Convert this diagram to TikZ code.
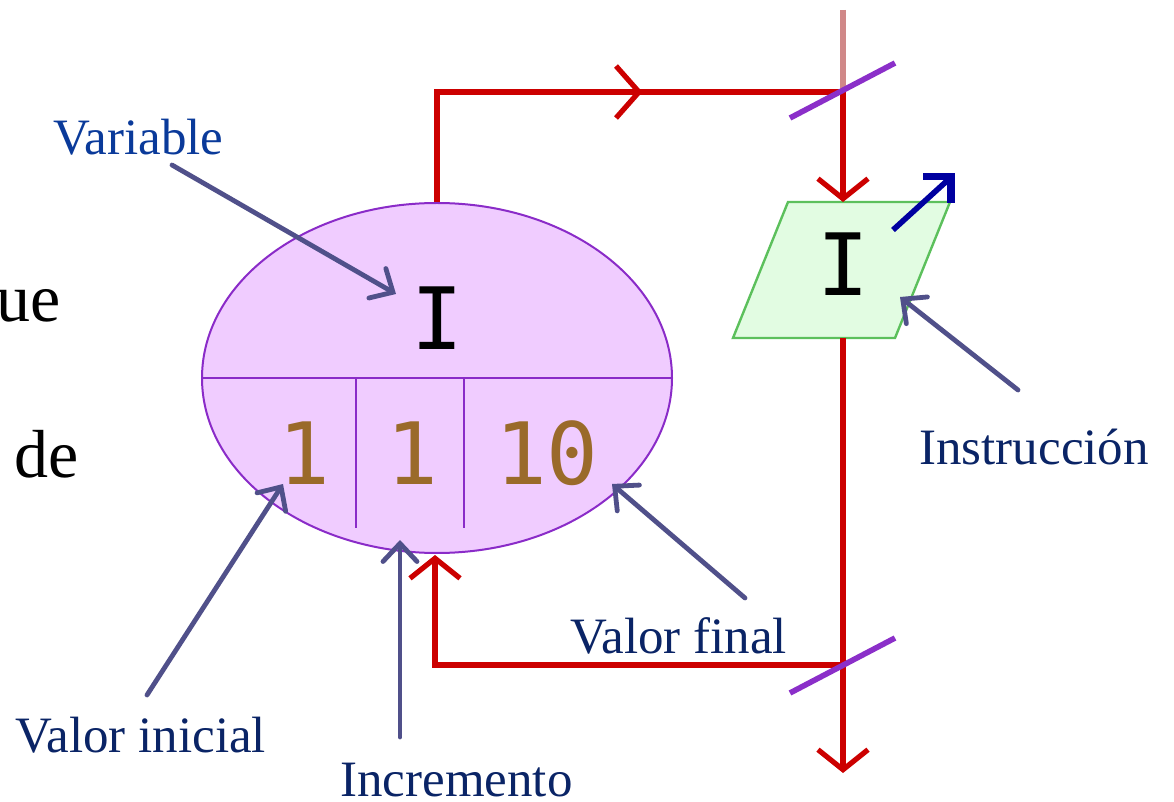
\documentclass[tikz,border=0pt]{standalone}
\usepackage{fontspec}
\setmainfont{Liberation Serif}
\newfontfamily\monof{DejaVu Sans Mono}
\usetikzlibrary{arrows.meta,shapes.geometric}
\definecolor{flowred}{HTML}{CC0000}
\definecolor{paleflow}{HTML}{D08888}
\definecolor{ellfill}{HTML}{F0CCFF}
\definecolor{elldraw}{HTML}{8A2BC8}
\definecolor{slashc}{HTML}{8B2FC9}
\definecolor{instrfill}{HTML}{E2FCE2}
\definecolor{instrdraw}{HTML}{5CC05C}
\definecolor{digitc}{HTML}{9A6A2A}
\definecolor{labc}{HTML}{0A2466}
\definecolor{varc}{HTML}{0A3A9A}
\definecolor{pointc}{HTML}{50508A}
\definecolor{outc}{HTML}{0000A0}
\begin{document}
\begin{tikzpicture}[x=0.5pt,y=-0.5pt,
  flow/.style={draw=flowred,line width=2.6pt},
  flowtip/.style={-{Straight Barb[length=10pt,width=25pt,line width=2.6pt]}},
  slash/.style={draw=slashc,line width=2.8pt},
  pointer/.style={draw=pointc,line width=2.4pt,line cap=round,
    -{Straight Barb[length=9pt,width=17pt,line cap=round,line width=2.4pt]}},
  lab/.style={font=\fontsize{25.5}{30}\selectfont,text=labc,inner sep=0,anchor=base},
  mono/.style={font=\monof\fontsize{43}{43}\selectfont,inner sep=0,anchor=base},
  bigtext/.style={font=\fontsize{34}{40}\selectfont,inner sep=0,anchor=base}]
\useasboundingbox (0,0) rectangle (1174,802);

% partial text at left
\node[bigtext,anchor=base west] (ue) at (-4,322) {ue};
\node[bigtext,anchor=base west] (de) at (14,478) {de};

% loop ellipse
\node[ellipse,draw=elldraw,fill=ellfill,line width=1pt,minimum width=235pt,minimum height=175pt,inner sep=0] (loop) at (437,378) {};
\draw[elldraw,line width=1pt] (loop.west) -- (loop.east);
\coordinate (d1t) at (356,379); \coordinate (d1b) at (356,528);
\coordinate (d2t) at (464,379); \coordinate (d2b) at (464,528);
\draw[elldraw,line width=1pt] (d1t) -- (d1b) (d2t) -- (d2b);
\node[mono] (var) at (437,350) {I};
\node[mono,text=digitc] (ini) at (304,485) {1};
\node[mono,text=digitc] (inc) at (412,485) {1};
\node[mono,text=digitc] (fin) at (547,485) {10};

% instruction parallelogram
\coordinate (p1) at (788,202); \coordinate (p2) at (950,202);
\coordinate (p3) at (895,338); \coordinate (p4) at (733,338);
\draw[fill=instrfill,draw=instrdraw,line width=1.2pt] (p1) -- (p2) -- (p3) -- (p4) -- cycle;
\node[mono] (ins) at (843,296) {I};
\coordinate (ptop) at (843,202);
\coordinate (pbot) at (843,338);

% output arrow
\coordinate (oa) at (893,230); \coordinate (ob) at (949,179);
\draw[outc,line width=2.8pt] (oa) -- (ob);
\draw[outc,line width=3.6pt,miter limit=10] (923,176.5) -- (951,176.5) -- (951,203);

% flow lines
\coordinate (top0) at (843,10);
\coordinate (topR) at (843,92);
\coordinate (topL) at (437,92);
\coordinate (botR) at (843,665);
\coordinate (botL) at (435,665);
\coordinate (endb) at (843,773);
\coordinate (loopb) at (435,555);
\draw[draw=paleflow,line width=2.6pt] (top0) -- (topR);
\draw[flow,line join=miter] (loop.north) -- (topL) -- (topR);
\draw[flow] (616,66) -- (639,92) -- (616,118);
\draw[flow,flowtip] (topR) -- (ptop);
\draw[flow,flowtip] (pbot) -- (endb);
\draw[flow,flowtip,line join=miter] (botR) -- (botL) -- (loopb);

% slashes
\draw[slash] (790,118) -- (895,63);
\draw[slash] (790,693) -- (895,638);

% labels
\node[lab,text=varc,anchor=base west] (lvar) at (53,155) {Variable};
\node[lab,anchor=base west] (lini) at (15,752) {Valor inicial};
\node[lab,anchor=base west] (linc) at (340,796) {Incremento};
\node[lab,anchor=base west] (lfin) at (570,653) {Valor final};
\node[lab,anchor=base west] (lins) at (919,465) {Instrucción};

\coordinate (svar) at (172,165); \coordinate (tvar) at (396,294);
\coordinate (sini) at (147,695); \coordinate (tini) at (283,484);
\coordinate (sinc) at (400,737); \coordinate (tinc) at (400,540);
\coordinate (sfin) at (745,598); \coordinate (tfin) at (612,484);
\coordinate (sins) at (1018,390); \coordinate (tins) at (900,297);
\draw[pointer] (svar) -- (tvar);
\draw[pointer] (sini) -- (tini);
\draw[pointer] (sinc) -- (tinc);
\draw[pointer] (sfin) -- (tfin);
\draw[pointer] (sins) -- (tins);
\end{tikzpicture}
\end{document}
